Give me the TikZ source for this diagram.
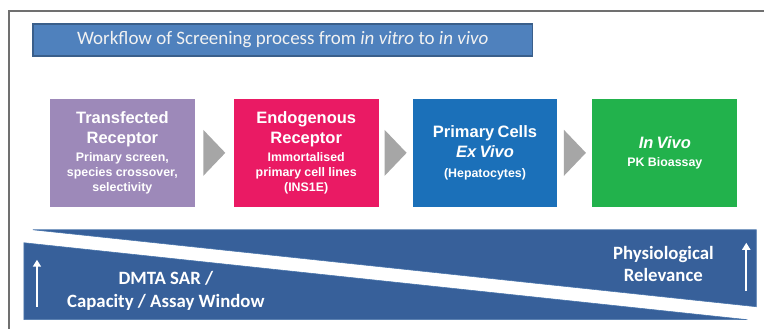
\documentclass[tikz,border=0pt]{standalone}
\usepackage{fontspec}
\usepackage{tikz}
\usetikzlibrary{backgrounds, calc, arrows.meta}
\setmainfont{Carlito}
\newfontfamily\arialfont{Liberation Sans}
\definecolor{frameline}{HTML}{707070}
\definecolor{titlefill}{HTML}{4F81BD}
\definecolor{titleedge}{HTML}{3A5F8B}
\definecolor{titletext}{HTML}{F2F2F2}
\definecolor{transfected}{HTML}{9D89B9}
\definecolor{endogenous}{HTML}{EA1A64}
\definecolor{primary}{HTML}{1B70B9}
\definecolor{invivo}{HTML}{22B24C}
\definecolor{arrowgray}{HTML}{A6A6A6}
\definecolor{band}{HTML}{37609A}
\definecolor{bandedge}{HTML}{4A76AC}
\newcommand{\boxtitle}[1]{{\fontsize{16.5}{20.5}\selectfont #1\par}}
\newcommand{\boxnote}[1]{{\fontsize{12.4}{15}\selectfont\vskip3pt #1\par}}

\begin{document}
\begin{tikzpicture}[x=1pt, y=-1pt,
        stage/.style={minimum width=145pt, minimum height=108pt, text width=143pt,
            align=center, inner sep=0pt, text=white, font=\arialfont\bfseries},
        chevron/.style={fill=arrowgray},
        wedge/.style={fill=band, draw=bandedge, line width=0.6pt},
        riser/.style={white, line width=2.4pt, -{Triangle[width=8pt, length=7pt]}},
        bandtext/.style={text=white, align=center,
            font=\fontsize{18.8}{22.5}\selectfont\bfseries}]

        \begin{scope}[on background layer]
            \fill[white] (0,0) rectangle (765,329);
        \end{scope}

        % open frame
        \draw[frameline, line width=1.5pt] (9,329) -- (9,11) -- (765,11);

        \node[fill=titlefill, draw=titleedge, line width=1.2pt, minimum width=500pt,
            minimum height=32pt, text=titletext, font=\fontsize{19}{22}\selectfont] (title) at (283,40)
            {Workflow of Screening process from \textit{in vitro} to \textit{in vivo}};

        \node[stage, fill=transfected] (transfected) at (122.5,153)
            {\boxtitle{Transfected\\Receptor}\boxnote{Primary screen,\\species crossover,\\selectivity}};
        \node[stage, fill=endogenous] (endogenous) at (306.5,153)
            {\boxtitle{Endogenous\\Receptor}\boxnote{Immortalised\\primary cell lines\\(INS1E)}};
        \node[stage, fill=primary] (primary) at (485.5,153)
            {\boxtitle{Primary Cells\\\textit{Ex Vivo}}\boxnote{\vskip2pt(Hepatocytes)}};
        \node[stage, fill=invivo] (invivo) at (665.5,153)
            {\boxtitle{\textit{In Vivo}}\boxnote{PK Bioassay}};

        \foreach \a/\b in {transfected/endogenous, endogenous/primary, primary/invivo} {
            \coordinate (gap) at ($(\a.east)!0.5!(\b.west)$);
            \fill[chevron] ($(gap)+(-11,-23)$) -- ($(gap)+(11,0)$) -- ($(gap)+(-11,23)$) -- cycle;
        }

        % capacity vs relevance band
        \draw[wedge] (33,230) -- (757,230) -- (757,307) -- cycle;
        \draw[wedge] (24,243) -- (748,320) -- (24,320) -- cycle;

        \node[bandtext] (capacity) at (166,291) {DMTA SAR /\\Capacity / Assay Window};
        \node[bandtext] (relevance) at (664,264) {Physiological\\Relevance};

        \coordinate (capfoot) at (37,307);
        \coordinate (captip) at (37,260);
        \coordinate (relfoot) at (747,291);
        \coordinate (reltip) at (747,243);
        \draw[riser] (capfoot) -- (captip);
        \draw[riser] (relfoot) -- (reltip);

    \end{tikzpicture}
\end{document}
